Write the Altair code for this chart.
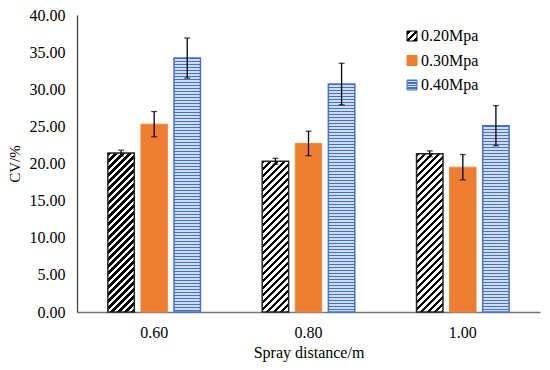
import math
import altair as alt

# ---- data ----
distances = ["0.60", "0.80", "1.00"]
series = ["0.20Mpa", "0.30Mpa", "0.40Mpa"]
cv_020 = [21.4, 20.3, 21.3]
cv_030 = [25.3, 22.7, 19.5]
cv_040 = [34.2, 30.7, 25.1]
err_020 = [0.4, 0.4, 0.4]
err_030 = [1.7, 1.65, 1.7]
err_040 = [2.7, 2.8, 2.7]
y_ticks = [0, 5, 10, 15, 20, 25, 30, 35, 40]

# ---- layout / style ----
W, H = 463, 297
YMAX = 40
FONT = "Liberation Serif"
BAR_W = (W / 3 * 0.6) / 2.8 * 0.8  # band width of one bar


def hatch_grad(h, w, period=7.0 / math.sqrt(2), frac=0.45, fg="#000000", bg="#ffffff"):
    L = (w + h) / math.sqrt(2)
    s = (w + h) / (w * w + h * h)
    stops = []
    k = 0
    while k * period < L:
        a = k * period / L
        b = min((k * period + frac * period) / L, 1)
        c = min((k + 1) * period / L, 1)
        stops += [{"offset": a, "color": fg}, {"offset": b, "color": fg},
                  {"offset": b, "color": bg}, {"offset": c, "color": bg}]
        k += 1
    return {"gradient": "linear", "x1": 0, "y1": 0, "x2": s * w, "y2": s * h, "stops": stops}


def hstripe_grad(h, period=3.0, frac=0.4, fg="#4472c4", bg="#cfdcf2"):
    n = max(1, math.ceil(h / period))
    stops = []
    for k in range(n):
        a = k / n
        b = (k + frac) / n
        c = (k + 1) / n
        stops += [{"offset": a, "color": fg}, {"offset": b, "color": fg},
                  {"offset": b, "color": bg}, {"offset": c, "color": bg}]
    return {"gradient": "linear", "x1": 0, "y1": 0, "x2": 0, "y2": n * period / h, "stops": stops}


rows = []
for s_name, vals, errs in [(series[0], cv_020, err_020),
                           (series[1], cv_030, err_030),
                           (series[2], cv_040, err_040)]:
    for d, v, e in zip(distances, vals, errs):
        hpx = v / YMAX * H
        if s_name == series[0]:
            g = hatch_grad(hpx, BAR_W)
        elif s_name == series[1]:
            g = "#ED7D31"
        else:
            g = hstripe_grad(hpx)
        rows.append({"distance": d, "series": s_name, "cv": v,
                     "lo": v - e, "hi": v + e, "grad": g})

base = alt.Chart(alt.Data(values=rows))

x_axis = alt.Axis(title="Spray distance/m", labelAngle=0, ticks=False,
                  labelPadding=12, domainColor="#767676", domainWidth=1.3,
                  titleY=45, titleBaseline="alphabetic", titleFontSize=16)
y_axis = alt.Axis(title="CV/%", values=y_ticks, format=".2f",
                  ticks=False, grid=False, labelPadding=12, labelOverlap=False,
                  domainColor="#404040", domainWidth=1.3,
                  titleX=-58, titleY=H / 2, titleAngle=-90,
                  titleAlign="center", titleBaseline="alphabetic",
                  titleFontSize=15)

x_scale = alt.Scale(paddingInner=0.4, paddingOuter=0.2)
y_scale = alt.Scale(domain=[0, YMAX], nice=False)
x_enc = alt.X("distance:N", sort=distances, scale=x_scale, axis=x_axis)
xo_enc = alt.XOffset("series:N", sort=series,
                     scale=alt.Scale(domain=series, paddingInner=0.2, paddingOuter=0))


def y_of(field):
    return alt.Y(f"{field}:Q", stack=None, scale=y_scale, axis=y_axis)


bar_styles = {series[0]: ("#262626", 1.5), series[1]: ("#F08A3E", 1.0), series[2]: ("#4472C4", 1.5)}
bar_layers = []
for s_name in series:
    stroke, sw = bar_styles[s_name]
    bar_layers.append(
        base.transform_filter(alt.datum.series == s_name)
        .mark_bar(stroke=stroke, strokeWidth=sw)
        .encode(x=x_enc, xOffset=xo_enc, y=y_of("cv"),
                color=alt.Color("grad:N", scale=None, legend=None))
    )

err_rule = base.mark_rule(color="#000000", strokeWidth=1.3).encode(
    x=x_enc, xOffset=xo_enc, y=y_of("lo"), y2="hi:Q")
cap_lo = base.mark_tick(color="#000000", size=6, thickness=1.3, orient="horizontal").encode(
    x=x_enc, xOffset=xo_enc, y=y_of("lo"))
cap_hi = base.mark_tick(color="#000000", size=6, thickness=1.3, orient="horizontal").encode(
    x=x_enc, xOffset=xo_enc, y=y_of("hi"))

legend_hatch = ("{gradient: 'linear', x1: 0, y1: 0, x2: 1, y2: 1, stops: ["
                "{offset: 0, color: '#000'}, {offset: 0.22, color: '#000'},"
                "{offset: 0.22, color: '#fff'}, {offset: 0.42, color: '#fff'},"
                "{offset: 0.42, color: '#000'}, {offset: 0.58, color: '#000'},"
                "{offset: 0.58, color: '#fff'}, {offset: 0.78, color: '#fff'},"
                "{offset: 0.78, color: '#000'}, {offset: 1, color: '#000'}]}")
stripe_stops = []
for k in range(4):
    a, b, c = k / 4, (k + 0.45) / 4, (k + 1) / 4
    stripe_stops += [f"{{offset: {a}, color: '#4472c4'}}", f"{{offset: {b}, color: '#4472c4'}}",
                     f"{{offset: {b}, color: '#cfdcf2'}}", f"{{offset: {c}, color: '#cfdcf2'}}"]
legend_stripe = ("{gradient: 'linear', x1: 0, y1: 0, x2: 0, y2: 1, stops: ["
                 + ", ".join(stripe_stops) + "]}")

leg = alt.Legend(title=None, orient="none", legendX=327, legendY=13,
                 symbolType="square", symbolSize=100, symbolStrokeWidth=1,
                 symbolOpacity=1,
                 labelFontSize=16, labelFont=FONT, labelColor="#000000",
                 labelOffset=1, rowPadding=8.5, padding=0)

legend_layer = base.transform_filter("false").mark_square(strokeWidth=1, opacity=1).encode(
    fill=alt.Fill("series:N",
                  scale=alt.Scale(domain=series,
                                  range=[{"expr": legend_hatch}, "#ED7D31", {"expr": legend_stripe}]),
                  legend=leg),
    stroke=alt.Stroke("series:N",
                      scale=alt.Scale(domain=series, range=["#000000", "#ED7D31", "#4472C4"]),
                      legend=leg),
)

chart = alt.layer(*bar_layers, err_rule, cap_lo, cap_hi, legend_layer).properties(
    width=W, height=H,
    autosize=alt.AutoSizeParams(type="none"),
    padding={"left": 69, "top": 7, "right": 2, "bottom": 50},
).configure_view(stroke=None).configure_axis(
    labelFont=FONT, titleFont=FONT, labelFontSize=16, labelColor="#000000",
    titleColor="#000000", titleFontWeight="normal", labelOverlap=False,
).configure_legend(labelFont=FONT)

chart.save("out.html", embed_options={"renderer": "svg", "actions": False})
